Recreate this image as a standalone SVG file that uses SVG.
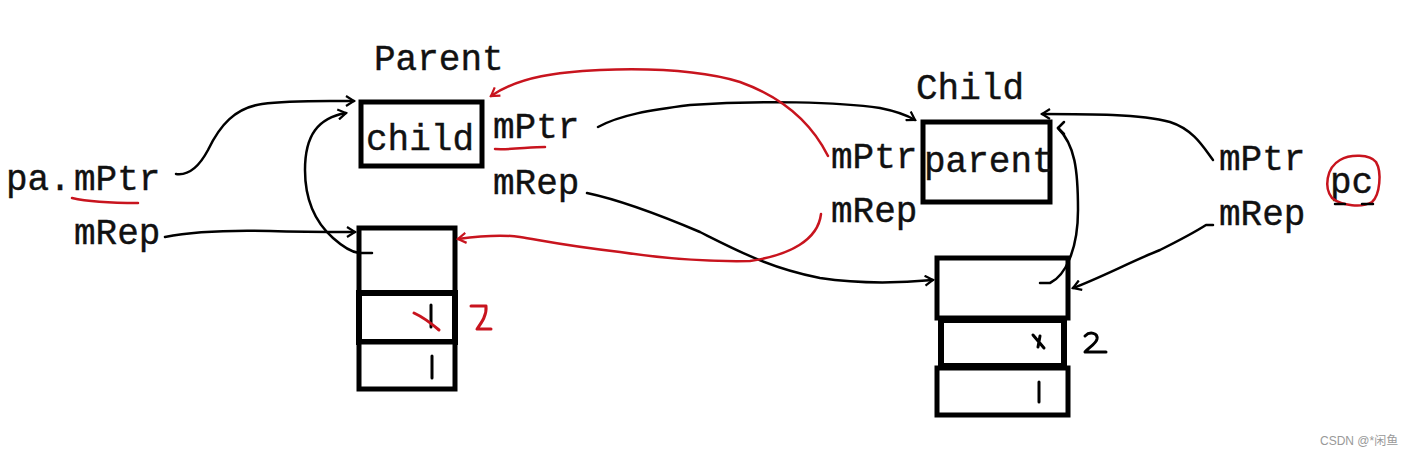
<svg xmlns="http://www.w3.org/2000/svg" width="1418" height="457" viewBox="0 0 1418 457">
<defs>
<style>
.t{font-family:"Liberation Mono","DejaVu Sans Mono",monospace;font-size:36px;fill:#111;stroke:#111;stroke-width:0.4}
.box{fill:#fff;stroke:#000;stroke-width:5}
.k{fill:none;stroke:#000;stroke-width:2.5;stroke-linecap:round;stroke-linejoin:round}
.r{fill:none;stroke:#c8141e;stroke-width:2.5;stroke-linecap:round;stroke-linejoin:round}
.wm{font-family:"Liberation Sans","Noto Sans CJK SC",sans-serif;font-size:12px;fill:#999}
</style>
<marker id="ak" viewBox="0 0 12 12" refX="10" refY="6" markerWidth="12" markerHeight="12" markerUnits="userSpaceOnUse" orient="auto">
<path d="M2,1 L10,6 L2,11" fill="none" stroke="#000" stroke-width="2.2"/>
</marker>
<marker id="ar" viewBox="0 0 12 12" refX="10" refY="6" markerWidth="12" markerHeight="12" markerUnits="userSpaceOnUse" orient="auto">
<path d="M2,1 L10,6 L2,11" fill="none" stroke="#c8141e" stroke-width="2.2"/>
</marker>
</defs>
<rect width="1418" height="457" fill="#fff"/>

<g id="parent-obj">
<text class="t" x="374" y="70">Parent</text>
<rect class="box" x="361" y="102" width="121" height="64"/>
<text class="t" x="366" y="150">child</text>
<text class="t" x="493" y="138">mPtr</text>
<text class="t" x="493" y="194">mRep</text>
<path class="r" d="M495,149 C510,150 530,147 545,147"/>
</g>

<g id="pa">
<text class="t" x="6" y="190">pa.</text>
<text class="t" x="74" y="190">mPtr</text>
<text class="t" x="74" y="244">mRep</text>
<path class="r" d="M72,198 C85,201 100,203 138,203"/>
</g>

<g id="parent-rep">
<rect class="box" x="359" y="228" width="96" height="65"/>
<rect class="box" x="359" y="293" width="96" height="49" style="stroke-width:6"/>
<rect class="box" x="359" y="342" width="96" height="47"/>
<path class="k" d="M431,305 L431,327" style="stroke-width:3"/>
<path class="r" d="M414,313 C425,318 432,324 439,330" style="stroke-width:3"/>
<path class="k" d="M432,356 L432,378" style="stroke-width:3"/>
<path class="r" d="M471,306 L486,306 C487,315 482,322 477,329 L491,329" style="stroke-width:3"/>
</g>

<g id="child-obj">
<text class="t" x="916" y="99">Child</text>
<rect class="box" x="923" y="122" width="127" height="80"/>
<text class="t" x="924" y="172">parent</text>
<text class="t" x="831" y="168">mPtr</text>
<text class="t" x="831" y="222">mRep</text>
</g>

<g id="child-rep">
<rect class="box" x="937" y="258" width="131" height="60"/>
<rect class="box" x="941" y="320" width="123" height="46" style="stroke-width:6"/>
<rect class="box" x="937" y="368" width="131" height="47"/>
<path class="k" d="M1033,335 L1044,348 M1040,336 L1038,347" style="stroke-width:3"/>
<path class="k" d="M1039,382 L1039,402" style="stroke-width:3"/>
<path class="k" d="M1085,336 C1090,331 1098,333 1097,339 C1096,344 1088,348 1085,352 L1106,352" style="stroke-width:3"/>
</g>

<g id="pc">
<text class="t" x="1219" y="170">mPtr</text>
<text class="t" x="1219" y="225">mRep</text>
<text class="t" x="1330" y="193">pc</text>
<path class="r" d="M1340,160 C1350,154 1370,154 1376,162 C1382,172 1380,195 1372,202 C1362,208 1342,206 1332,198 C1324,188 1326,168 1340,160 Z"/>
<path class="k" d="M1335,204 L1345,204 M1362,204 L1373,204"/>
</g>

<g id="connectors">
<path class="k" marker-end="url(#ak)" d="M176,174 C190,176 200,165 208,150 C220,125 235,108 262,104 C290,100 320,101 354,101"/>
<path class="k" marker-end="url(#ak)" d="M165,237 C190,232 230,230 270,231 C300,232 330,232 355,232"/>
<path class="k" marker-end="url(#ak)" d="M372,253 L359,253 C350,252 342,246 333,238 C315,222 305,200 305,170 C305,135 318,118 346,113"/>
<path class="k" marker-end="url(#ak)" d="M598,127 C620,115 650,110 690,105 C760,100 840,102 880,108 C900,112 910,117 915,120"/>
<path class="k" marker-end="url(#ak)" d="M587,193 C620,200 660,215 700,232 C740,252 770,268 820,278 C860,284 900,283 933,280"/>
<path class="k" d="M1040,283 L1050,283 C1065,276 1078,250 1078,210 C1078,170 1075,145 1058,128"/>
<path class="k" d="M1058,128 L1064,122 M1058,128 L1064,134"/>
<path class="k" marker-end="url(#ak)" d="M1213,160 C1205,150 1195,130 1170,122 C1140,114 1090,114 1042,114"/>
<path class="k" marker-end="url(#ak)" d="M1213,225 L1206,225 C1195,232 1180,240 1160,250 C1130,262 1100,278 1073,288"/>
<path class="r" marker-end="url(#ar)" d="M828,156 C815,130 790,100 740,82 C700,70 650,68 600,70 C560,72 520,76 491,96"/>
<path class="r" marker-end="url(#ar)" d="M821,214 C818,240 790,255 750,261 C700,262 660,258 620,252 C560,245 540,240 520,237 C500,234 480,236 458,239"/>
</g>

<text class="wm" x="1320" y="445">CSDN @*闲鱼</text>
</svg>
